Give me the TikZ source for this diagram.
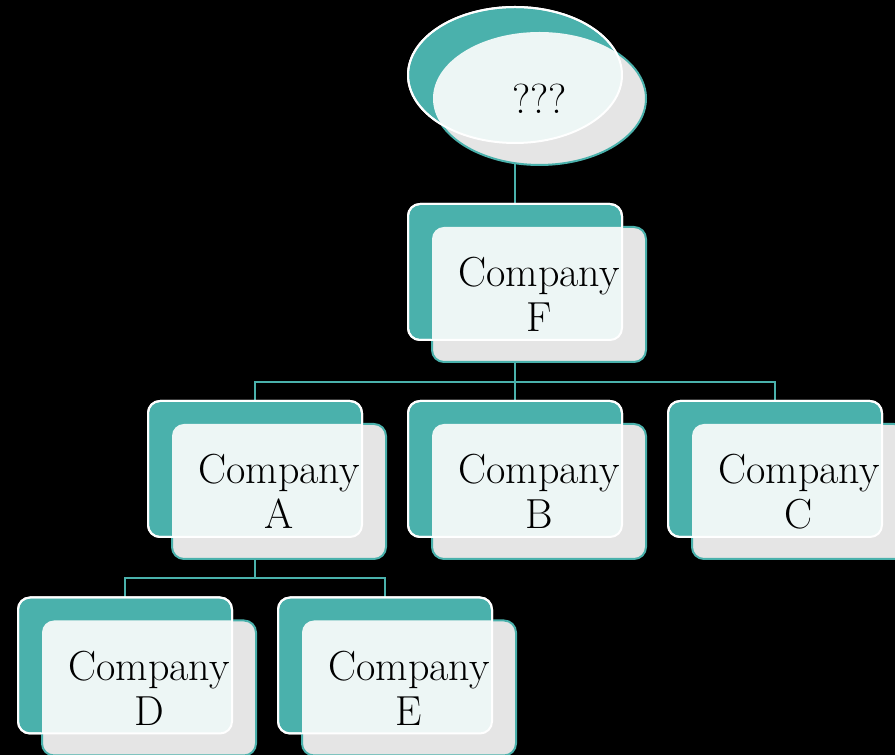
\documentclass[tikz,border=0pt]{standalone}
\usepackage{tikz}
\usetikzlibrary{positioning,shapes,calc,backgrounds}

\definecolor{orgteal}{HTML}{4AB1AC}
\definecolor{orglight}{HTML}{EDF6F5}
\definecolor{orggray}{HTML}{E5E5E5}

\tikzset{
  backbox/.style={draw=white, line width=2pt, fill=orgteal, rounded corners=12pt,
    minimum width=214pt, minimum height=136pt, inner sep=0pt, outer sep=0pt},
  frontbox/.style={draw=orgteal, line width=2pt, fill=orggray, rounded corners=12pt,
    minimum width=214pt, minimum height=135pt, inner sep=0pt, outer sep=0pt},
  link/.style={draw=orgteal, line width=2pt},
  orgtext/.style={font=\fontsize{42}{45}\selectfont, align=center, text=black, inner sep=0pt}
}

\begin{document}
\begin{tikzpicture}[x=1pt,y=1pt]
\useasboundingbox (0,0) rectangle (895,755);

% top ellipse
\node[backbox, ellipse, rounded corners=0pt, minimum height=136pt] (topb) at (515,680) {};
\node[frontbox, ellipse, rounded corners=0pt, minimum width=213pt, minimum height=133pt] (topf) at (539.5,656.5) {};
\begin{scope}
  \clip (topf.center) ellipse[x radius=106.5, y radius=66.5];
  \fill[orglight] (topb.center) ellipse[x radius=107, y radius=68];
\end{scope}
\draw[white, line width=2pt] (topb.center) ellipse[x radius=107, y radius=68];
\node[orgtext] (topt) at (topf) {???};

% company boxes
\foreach \id/\x/\y in {F/515/483, A/255/286, B/515/286, C/775/286, D/125/89.5, E/385/89.5}{
  \node[backbox] (\id b) at (\x,\y) {};
  \node[frontbox] (\id f) at ($(\id b)+(24,-22.5)$) {};
  \begin{scope}
    \clip[rounded corners=12pt] (\id f.south west) rectangle (\id f.north east);
    \fill[orglight, rounded corners=12pt] (\id b.south west) rectangle (\id b.north east);
  \end{scope}
  \draw[white, line width=2pt, rounded corners=12pt] (\id b.south west) rectangle (\id b.north east);
  \node[orgtext] (\id t) at (\id f) {Company\\\id};
}

\begin{scope}[on background layer]
  \fill[black] (0,0) rectangle (895,755);
  \draw[link] (topb.south) -- (Fb.north);
  \draw[link] (Fb.south) -- ++(0,-42) coordinate (Fsplit);
  \foreach \c in {A,B,C}{\draw[link] (Fsplit) -| (\c b.north);}
  \draw[link] (Ab.south) -- ++(0,-41) coordinate (Asplit);
  \foreach \c in {D,E}{\draw[link] (Asplit) -| (\c b.north);}
\end{scope}
\end{tikzpicture}
\end{document}
